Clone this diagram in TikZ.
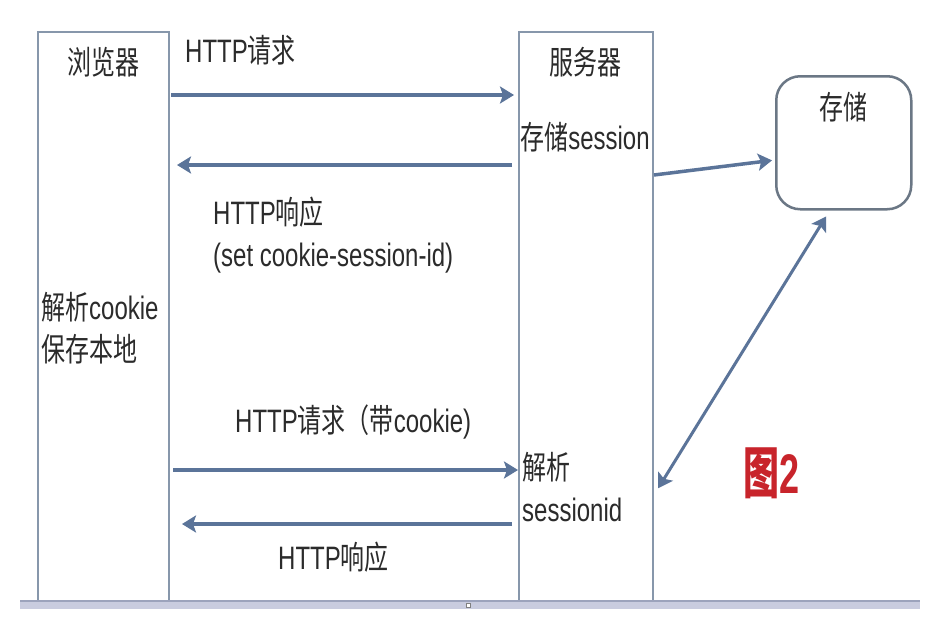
\documentclass[tikz,border=0pt]{standalone}
\usepackage{fontspec}
\setmainfont{Liberation Sans}
\newfontfamily\cjk{Noto Sans CJK SC}
\usepackage{tikz}
\usetikzlibrary{arrows.meta}
\usepackage{xcolor}

\definecolor{laneline}{HTML}{8797AB}
\definecolor{flowblue}{HTML}{5B7499}
\definecolor{storeline}{HTML}{6B7785}
\definecolor{inkgray}{HTML}{2B2B2B}
\definecolor{figred}{HTML}{C8242B}
\definecolor{bandfill}{HTML}{C9CCDF}
\definecolor{bandedge}{HTML}{9CA3BC}

\tikzset{
  lane/.style={draw=laneline, line width=2pt, anchor=north west, inner sep=0},
  store/.style={draw=storeline, line width=2.5pt, rounded corners=24pt, anchor=north west, inner sep=0},
  flow/.style={-{Stealth[length=14pt,width=17pt,inset=3pt]}, draw=flowblue, line width=3.5pt},
  flowboth/.style={{Stealth[length=14pt,width=17pt,inset=3pt]}-{Stealth[length=14pt,width=17pt,inset=3pt]}, draw=flowblue, line width=3pt},
  txt/.style={inner sep=0, text=inkgray, font=\fontsize{24}{28}\selectfont, yscale=1.35},
}

\begin{document}
\begin{tikzpicture}[x=1pt, y=-1pt]
				\fill[white] (0,0) rectangle (942,624);
				\useasboundingbox (0,0) rectangle (942,624);
				% lanes and storage
				\node[lane, minimum width=131pt, minimum height=570pt] (browser) at (37,31) {};
				\node[lane, minimum width=134pt, minimum height=570pt] (server) at (518,31) {};
				\node[store, minimum width=135pt, minimum height=133pt] (storage) at (775,75) {};
				% texts
				\node[txt] (browsertitle) at (103,62) {\cjk 浏览器};
				\node[txt] (servertitle) at (585,62) {\cjk 服务器};
				\node[txt] (storetitle) at (843,107) {\cjk 存储};
				\node[txt] (storesess) at (585,137) {{\cjk 存储}session};
				\node[txt, anchor=west] (req1) at (185,50) {HTTP{\cjk 请求}};
				\node[txt, anchor=west] (resp1) at (213,212) {HTTP{\cjk 响应}};
				\node[txt, anchor=west] (setcookie) at (213,258) {(set cookie-session-id)};
				\node[txt, anchor=west] (parsecookie) at (41,307) {{\cjk 解析}cookie};
				\node[txt, anchor=west] (savelocal) at (41,349) {\cjk 保存本地};
				\node[txt, anchor=west] (req2) at (235,422) {HTTP{\cjk 请求（带}cookie)};
				\node[txt, anchor=west] (parseid) at (522,467) {\cjk 解析};
				\node[txt, anchor=west] (sessid) at (522,510) {sessionid};
				\node[txt, anchor=west] (resp2) at (278,557) {HTTP{\cjk 响应}};
				\node[inner sep=0, text=figred, font=\fontsize{36}{40}\selectfont\bfseries, yscale=1.55] (figlabel) at (772,473) {{\cjk 图}2};
				% messages
				\draw[flow, shorten <=1pt, shorten >=4pt] (browser.east |- 0,95) -- (server.west |- 0,95);
				\draw[flow, shorten <=6pt, shorten >=7pt] (server.west |- 0,165) -- (browser.east |- 0,165);
				\draw[flow, shorten <=3pt] (browser.east |- 0,470) -- (server.west |- 0,470);
				\draw[flow, shorten <=6pt, shorten >=12pt] (server.west |- 0,524) -- (browser.east |- 0,524);
				\draw[flow, shorten >=3pt] (server.east |- 0,175) -- (storage.west |- 0,160);
				\draw[flowboth, shorten <=7pt, shorten >=8pt] ([xshift=-14pt]storage.south) -- (server.east |- 0,495);
				% bottom band
				\fill[bandfill] (20,601) rectangle (920,609);
				\draw[bandedge, line width=1.5pt] (20,601) -- (920,601);
				\draw[gray, fill=white, line width=0.8pt] (466,603) rectangle (470,607);
			\end{tikzpicture}
\end{document}
